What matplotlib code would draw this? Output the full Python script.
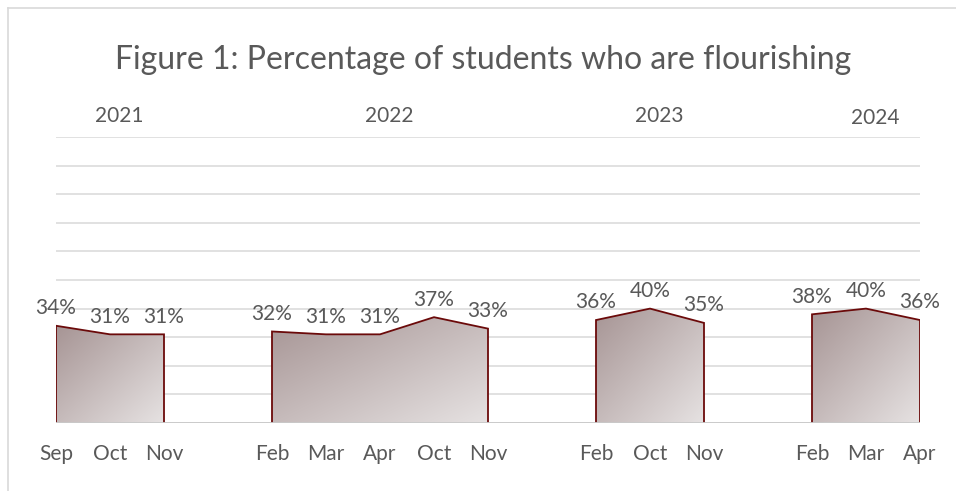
import numpy as np
import matplotlib
matplotlib.use("Agg")
import matplotlib.pyplot as plt
from matplotlib.colors import LinearSegmentedColormap

# categories (blank entries are the gaps between years)
months = ["Sep", "Oct", "Nov", "",
          "Feb", "Mar", "Apr", "Oct", "Nov", "",
          "Feb", "Oct", "Nov", "",
          "Feb", "Mar", "Apr"]
flourishing = [34, 31, 31, None,
               32, 31, 31, 37, 33, None,
               36, 40, 35, None,
               38, 40, 36]
years = ["2021", "2022", "2023", "2024"]
year_groups = [(0, 2), (4, 8), (10, 12), (14, 16)]

TEXT = "#595959"
GRID = "#d9d9d9"
EDGE = "#6b0a0a"
plt.rcParams["font.family"] = ["Lato", "DejaVu Sans"]

fig = plt.figure(figsize=(9.56, 4.91), dpi=100)
ax = fig.add_axes([56 / 956, 1 - 423 / 491, (920 - 56) / 956, (423 - 137) / 491])

x = np.arange(len(months))
ax.set_xlim(0, len(months) - 1)
ax.set_ylim(0, 100)

# horizontal gridlines
ax.set_yticks(np.arange(0, 101, 10))
ax.yaxis.grid(True, color=GRID, linewidth=1.1, zorder=0)
ax.set_axisbelow(True)
ax.tick_params(axis="y", left=False, labelleft=False)
for s in ax.spines.values():
    s.set_visible(False)

cmap = LinearSegmentedColormap.from_list("brown", ["#a69494", "#e6e2e2"])

# contiguous runs of data
runs, cur = [], []
for i, v in enumerate(flourishing):
    if v is None:
        if cur:
            runs.append(cur)
        cur = []
    else:
        cur.append(i)
if cur:
    runs.append(cur)

for run in runs:
    xs = x[run]
    ys = np.array([flourishing[i] for i in run], dtype=float)
    poly = ax.fill_between(xs, 0, ys, facecolor="none", edgecolor="none")
    u, v = np.meshgrid(np.linspace(0, 1, 200), np.linspace(1, 0, 200))
    grad = (u + (1 - v)) / 2
    im = ax.imshow(grad, cmap=cmap, extent=(xs[0], xs[-1], 0, ys.max()),
                   aspect="auto", origin="upper", zorder=2, interpolation="bilinear")
    im.set_clip_path(poly.get_paths()[0], transform=ax.transData)
    ax.plot(np.r_[xs[0], xs, xs[-1]], np.r_[0, ys, 0], color=EDGE,
            linewidth=1.3, zorder=3, solid_joinstyle="miter")
    for xi, yi in zip(xs, ys):
        ax.annotate(f"{yi:.0f}%", (xi, yi), xytext=(0, 5.5), textcoords="offset points",
                    ha="center", va="bottom", fontsize=15, color=TEXT, zorder=4)

ax.axhline(0, color="#c9c9c9", linewidth=1.3, zorder=3.5)

ax.set_xticks(x)
ax.set_xticklabels(months, fontsize=15, color=TEXT)
ax.tick_params(axis="x", length=0, pad=15)

for label, (a, b) in zip(years, year_groups):
    ax.text((a + b) / 2 + 0.18, 107.3 if label != "2024" else 106.6, label,
            ha="center", va="center", fontsize=15, color=TEXT, clip_on=False)

fig.text(483 / 956, 1 - 60 / 491, "Figure 1: Percentage of students who are flourishing",
         ha="center", va="center", fontsize=23, color=TEXT)

# chart border (top and left edges visible)
fig.add_artist(plt.Line2D([8 / 956, 1], [1 - 8 / 491] * 2, color=GRID, linewidth=1.2))
fig.add_artist(plt.Line2D([8 / 956] * 2, [0, 1 - 8 / 491], color=GRID, linewidth=1.2))

fig.savefig("out.png", dpi=100)
